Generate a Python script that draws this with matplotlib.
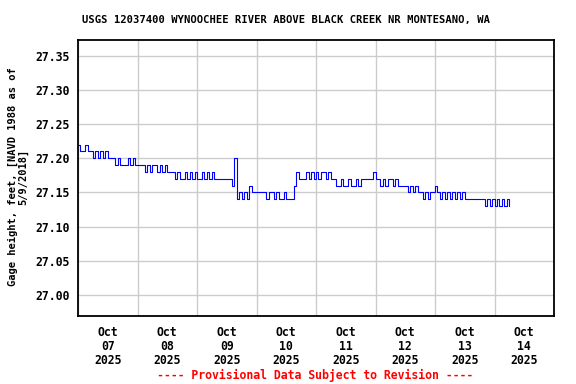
import numpy as np
import pandas as pd
import matplotlib
matplotlib.use('Agg')
import matplotlib.pyplot as plt
import matplotlib.dates as mdates

# hourly gage height readings, hundredths of a foot above 27.00 ft
oct07 = [22, 21, 21, 22, 21, 21, 20, 21, 20, 21, 20, 21,
         20, 20, 20, 19, 20, 19, 19, 19, 20, 19, 20, 19]
oct08 = [19, 19, 19, 18, 19, 18, 19, 19, 18, 19, 18, 19,
         18, 18, 18, 17, 18, 17, 17, 18, 17, 18, 17, 18]
oct09 = [17, 17, 18, 17, 18, 17, 18, 17, 17, 17, 17, 17,
         17, 17, 16, 20, 14, 15, 14, 15, 14, 16, 15, 15]
oct10 = [15, 15, 15, 15, 14, 15, 15, 14, 15, 14, 14, 15,
         14, 14, 14, 16, 18, 17, 17, 17, 18, 17, 18, 17]
oct11 = [18, 17, 18, 18, 17, 18, 17, 17, 16, 16, 17, 16,
         16, 17, 16, 16, 17, 16, 17, 17, 17, 17, 17, 18]
oct12 = [17, 17, 16, 17, 16, 17, 17, 16, 17, 16, 16, 16,
         16, 15, 16, 15, 16, 15, 15, 14, 15, 14, 15, 15]
oct13 = [16, 15, 14, 15, 14, 15, 14, 15, 14, 15, 14, 15,
         14, 14, 14, 14, 14, 14, 14, 14, 13, 14, 13, 14]
oct14 = [13, 14, 13, 14, 13, 14, 13]

readings = oct07 + oct08 + oct09 + oct10 + oct11 + oct12 + oct13 + oct14
stage = 27.0 + np.array(readings) / 100.0
times = pd.date_range('2025-10-07 00:00', periods=len(stage), freq='h')

title = 'USGS 12037400 WYNOOCHEE RIVER ABOVE BLACK CREEK NR MONTESANO, WA'
ylabel = 'Gage height, feet, [NAVD 1988 as of\n5/9/2018]'
footer = '---- Provisional Data Subject to Revision ----'
yticks = [27.00, 27.05, 27.10, 27.15, 27.20, 27.25, 27.30, 27.35]

font = 'DejaVu Sans Mono'

fig = plt.figure(figsize=(5.76, 3.84), dpi=100)
ax = fig.add_axes([78/576, 1 - 316/384, 476/576, 276/384])

ax.plot(times, stage, color='#0000ff', lw=0.8, drawstyle='steps-post')

ax.set_xlim(pd.Timestamp('2025-10-07'), pd.Timestamp('2025-10-15'))
ax.set_ylim(26.969, 27.373)

ax.xaxis.set_major_locator(mdates.DayLocator())
ax.xaxis.set_major_formatter(plt.NullFormatter())
ax.xaxis.set_minor_locator(mdates.HourLocator(byhour=[12]))
ax.xaxis.set_minor_formatter(mdates.DateFormatter('%b\n%d\n%Y'))
ax.set_yticks(yticks)
ax.set_yticklabels([f'{v:.2f}' for v in yticks])

ax.grid(True, which='major', color='#cccccc', lw=1.0)
ax.set_axisbelow(True)
ax.tick_params(axis='both', which='both', length=0)
ax.tick_params(axis='x', which='minor', pad=7)
ax.tick_params(axis='y', pad=6)
for lab in ax.get_xticklabels(minor=True) + ax.get_yticklabels():
    lab.set_fontfamily(font)
    lab.set_fontweight('bold')
    lab.set_fontsize(8.3)
for lab in ax.get_xticklabels(minor=True):
    lab.set_linespacing(1.1)
for sp in ax.spines.values():
    sp.set_linewidth(1.3)

fig.text(286/576, 1 - 20/384, title, ha='center', va='center',
         fontfamily=font, fontweight='bold', fontsize=7.6)
fig.text(18/576, 1 - 177/384, ylabel, ha='center', va='center', rotation=90,
         multialignment='center', linespacing=1.1,
         fontfamily=font, fontweight='bold', fontsize=7.5)
fig.text(315/576, 1 - 375/384, footer, ha='center', va='center', color='red',
         fontfamily=font, fontweight='bold', fontsize=8.3)

fig.savefig('out.png', dpi=100)
